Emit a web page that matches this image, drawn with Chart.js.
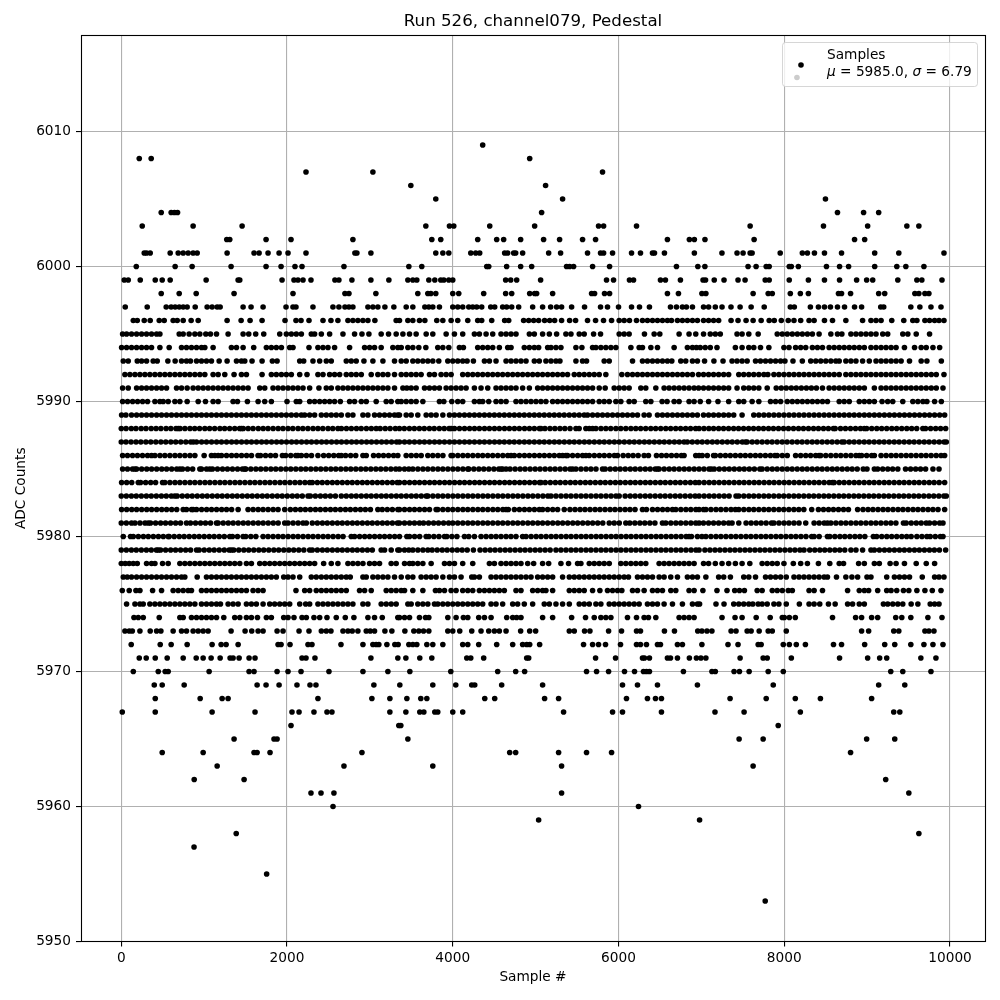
<!DOCTYPE html>
<html><head><meta charset="utf-8">
<style>html,body{margin:0;padding:0;background:#fff}canvas{display:block}</style>
<script src="https://cdn.jsdelivr.net/npm/chart.js@4/dist/chart.umd.min.js"></script>
</head><body><canvas id="c" width="1000" height="1000"></canvas>
<script>
const chartTitle="Run 526, channel079, Pedestal";
const xLabel="Sample #", yLabel="ADC Counts", seriesName="Samples";
const xTicks=[0,2000,4000,6000,8000,10000];
const yTicks=[5950,5960,5970,5980,5990,6000,6010];
// sample numbers seen at each ADC level
const s6014=[8153];
const s6009=[4361];
const s6008=[217,361,4928];
const s6007=[2229,3036,5807];
const s6006=[3494,5120];
const s6005=[3795,5325,8497];
const s6004=[482,602,642,679,5072,8642,8957,9139];
const s6003=[253,867,1458,3675,3960,4012,4446,4988,5759,5820,6217,7588,8473,9006,9479,9624];
const s6002=[1273,1309,1747,2048,2795,3747,3855,4301,4530,4614,4819,5096,5289,5566,5723,6590,6855,6915,7043,7636,8848,8970];
const s6001=[277,305,349,590,687,747,807,867,916,1277,1602,1663,1771,1904,2012,2229,2819,2843,3012,3795,3880,3952,4217,4277,4325,4626,4662,4735,4759,4843,5157,5301,5626,5783,5820,5928,6157,6265,6410,6434,6554,6915,7248,7430,7503,7588,7612,7951,8218,8279,8364,8485,8691,9091,9382,9927];
const s6000=[181,650,855,1325,1747,1928,2096,2181,2687,3470,3626,4410,4434,4650,4819,4952,5373,5410,5458,5687,5892,6699,6957,7042,7563,7660,7782,7818,8060,8085,8170,8509,8667,8776,9091,9358,9467,9685];
const s5999=[36,84,229,410,494,590,1024,1410,1430,1940,2084,2132,2193,2289,2578,2626,2783,3012,3229,3458,3518,3566,3711,3783,3855,3892,3952,4000,4638,4699,4771,5060,5855,5940,6132,6181,6506,6566,6747,7020,7050,7155,7273,7442,7527,7770,7818,8060,8291,8485,8667,8873,8994,9067,9370,9600,9660,9903];
const s5998=[482,699,904,1361,2072,2699,2747,3072,3578,3699,3735,3795,4000,4072,4373,4638,4711,4928,4988,5012,5205,5675,5711,5831,5892,6590,6723,7006,7054,7624,7806,7855,8073,8194,8291,8654,8691,8800,9139,9212,9576,9624,9697,9745];
const s5997=[48,313,542,602,650,699,747,795,892,1036,1096,1157,1193,1470,1566,1711,1988,2072,2108,2313,2554,2626,2699,2747,2795,2976,3036,3096,3181,3289,3438,3518,3663,3711,3759,3839,4000,4060,4120,4193,4241,4289,4349,4458,4506,4602,4650,4711,4795,4964,5084,5181,5253,5313,5434,5590,5783,5867,6000,6157,6253,6373,6627,6699,6771,6819,6892,7026,7087,7168,7249,7357,7467,7600,7758,8073,8121,8315,8412,8485,8557,8642,8727,8848,8933,9164,9200,9527,9636,9770,9891];
const s5996=[145,193,277,349,458,518,626,675,747,843,928,1277,1446,1554,1699,1976,2108,2169,2265,2434,2530,2614,2735,2795,2855,2916,2976,3060,3317,3357,3458,3518,3598,3663,3807,3880,3980,4060,4181,4301,4349,4470,4626,4675,4855,4916,4976,5036,5108,5169,5229,5313,5410,5482,5626,5723,5819,5916,6008,6068,6132,6217,6289,6349,6410,6470,6530,6590,6639,6711,6771,6831,6892,6952,7026,7087,7147,7208,7358,7442,7539,7624,7721,7818,7879,7964,8048,8117,8198,8299,8360,8485,8582,8743,8945,9046,9107,9168,9297,9442,9551,9600,9697,9753,9814,9867,9927];
const s5995=[16,64,124,185,245,305,365,426,466,699,747,819,888,948,1020,1076,1149,1289,1470,1538,1622,1719,1912,1992,2052,2112,2173,2293,2333,2414,2514,2675,2815,2904,2988,3136,3225,3317,3398,3478,3558,3679,3759,3920,4020,4120,4261,4321,4402,4482,4582,4643,4703,4763,4924,4984,5084,5165,5253,5365,5426,5526,5586,5699,5783,6008,6068,6128,6313,6430,6498,6731,6851,6932,7026,7107,7168,7228,7430,7491,7572,7685,7915,7976,8036,8097,8158,8218,8279,8339,8420,8562,8642,8695,8804,8865,8925,8986,9046,9107,9188,9248,9430,9491,9592,9753];
const s5994=[4,64,124,185,245,305,365,466,578,727,787,847,908,968,1008,1108,1329,1390,1470,1598,1751,1811,1871,1932,2032,2072,2265,2373,2434,2494,2574,2755,2936,2996,3056,3136,3277,3337,3378,3458,3518,3590,3675,3819,3880,3952,4080,4128,4301,4361,4422,4482,4562,4663,4703,4863,4924,4984,5036,5145,5185,5245,5305,5486,5558,5687,5727,5787,5847,5908,5968,6149,6249,6289,6390,6470,6671,6831,6892,6940,6986,7046,7107,7188,7410,7491,7572,7632,7713,7814,7996,8057,8137,8198,8259,8339,8400,8461,8541,8602,8663,8723,8784,8844,8905,8966,9046,9107,9168,9228,9289,9349,9450,9572,9652,9713,9794,9875];
const s5993=[24,84,193,245,305,385,434,562,650,727,787,835,908,968,1028,1088,1181,1277,1390,1450,1490,1578,1699,1823,1880,2153,2201,2313,2394,2474,2534,2715,2775,2835,2928,3036,3157,3297,3378,3438,3518,3578,3639,3699,3759,3831,3940,4000,4060,4120,4173,4249,4382,4442,4522,4643,4703,4763,4823,4884,4984,5044,5124,5185,5245,5293,5486,5566,5614,5827,5888,6169,6289,6349,6410,6470,6530,6590,6643,6751,6811,6892,6952,7038,7151,7261,7370,7430,7491,7552,7653,7713,7774,7834,7895,7956,8008,8105,8218,8319,8380,8440,8501,8562,8622,8663,8743,8804,8865,8945,9026,9107,9168,9228,9289,9349,9410,9511,9652,9721,9895];
const s5992=[44,104,165,225,285,345,406,466,526,586,647,707,767,827,888,948,1008,1108,1169,1249,1361,1450,1510,1699,1811,1871,1932,1992,2052,2153,2241,2373,2434,2514,2574,2635,2715,2775,2835,2896,3016,3096,3157,3217,3297,3378,3438,3498,3558,3618,3719,3779,3859,3920,3980,4120,4181,4241,4301,4361,4422,4482,4542,4602,4663,4723,4783,4843,4904,4964,5024,5084,5145,5205,5265,5325,5385,5466,5526,5586,5647,5707,5767,5847,6040,6108,6169,6229,6289,6349,6410,6470,6530,6590,6651,6711,6771,6831,6892,6966,7026,7087,7147,7208,7269,7329,7451,7511,7572,7632,7693,7754,7802,7875,7935,7996,8057,8117,8178,8238,8299,8360,8420,8481,8541,8602,8663,8743,8804,8865,8925,8986,9046,9107,9168,9228,9289,9349,9410,9471,9531,9592,9652,9713,9774,9834,9927];
const s5991=[16,84,185,245,305,365,426,486,546,667,727,795,867,928,988,1048,1108,1169,1229,1289,1349,1410,1470,1530,1671,1731,1831,1892,1952,2012,2072,2132,2193,2273,2385,2474,2534,2614,2675,2735,2795,2855,2916,2976,3036,3096,3157,3217,3297,3398,3446,3498,3558,3659,3719,3779,3839,3920,3980,4040,4100,4161,4261,4341,4422,4522,4582,4643,4703,4763,4843,4924,5024,5084,5145,5205,5265,5325,5385,5446,5506,5566,5626,5687,5767,5839,5948,6008,6068,6128,6269,6329,6450,6550,6610,6671,6731,6791,6851,6912,6966,7026,7087,7147,7208,7269,7329,7430,7511,7572,7632,7693,7794,7903,7964,8024,8085,8145,8206,8267,8327,8388,8461,8541,8602,8663,8723,8784,8844,8905,8966,9087,9168,9228,9289,9349,9410,9471,9531,9592,9652,9713,9774,9834,9915];
const s5990=[16,76,137,197,257,317,406,466,506,566,647,707,795,928,1016,1108,1169,1349,1402,1522,1651,1731,1811,2000,2112,2153,2273,2333,2394,2454,2514,2574,2643,2755,2815,2896,2956,3076,3197,3257,3337,3378,3438,3498,3558,3639,3839,3892,3988,4060,4120,4261,4321,4361,4434,4522,4582,4643,4763,4823,4884,4944,5004,5064,5124,5205,5265,5325,5385,5446,5506,5566,5626,5687,5767,5827,5888,5968,6028,6128,6189,6329,6390,6526,6586,6671,6731,6851,6912,6986,7087,7200,7329,7451,7511,7612,7693,7834,7895,7956,8036,8097,8158,8218,8279,8339,8400,8461,8521,8663,8723,8784,8905,8966,9026,9087,9180,9248,9309,9430,9551,9612,9673,9721,9814,9895];
const s5989=[4,56,124,185,245,305,365,426,486,546,606,667,727,787,847,908,968,1028,1088,1149,1209,1269,1329,1390,1450,1510,1570,1630,1691,1751,1811,1871,1932,1992,2052,2112,2173,2213,2273,2333,2414,2474,2534,2594,2655,2735,2795,2916,2976,3056,3116,3177,3237,3297,3337,3357,3438,3498,3578,3679,3739,3799,3880,3960,4020,4080,4141,4201,4261,4321,4382,4442,4502,4562,4622,4683,4743,4803,4863,4924,4984,5044,5104,5165,5225,5285,5345,5406,5466,5526,5586,5626,5687,5747,5807,5867,5928,5988,6048,6108,6169,6229,6309,6369,6470,6530,6590,6651,6711,6771,6831,6892,6952,7026,7087,7147,7208,7269,7329,7390,7491,7632,7693,7754,7814,7875,7935,7996,8057,8117,8178,8238,8299,8360,8420,8481,8541,8602,8663,8723,8784,8844,8905,8966,9026,9087,9147,9208,9269,9329,9390,9450,9511,9572,9632,9693,9753,9814,9875,9935];
const s5988=[0,58,121,177,240,298,361,420,478,541,598,660,687,710,768,829,886,945,1008,1066,1127,1190,1247,1308,1369,1428,1450,1472,1531,1590,1653,1712,1771,1832,1893,1951,2012,2070,2133,2191,2252,2314,2373,2432,2495,2552,2614,2656,2717,2776,2838,2895,2958,3017,3076,3124,3185,3244,3307,3357,3415,3477,3536,3597,3656,3718,3776,3838,3897,3956,3980,4020,4081,4142,4203,4262,4321,4383,4442,4503,4562,4624,4683,4744,4803,4866,4925,4984,5045,5064,5112,5173,5232,5293,5352,5415,5486,5525,5606,5648,5687,5727,5788,5847,5906,5968,6027,6088,6149,6208,6267,6328,6389,6448,6509,6570,6629,6690,6749,6810,6869,6930,6972,7031,7090,7147,7208,7267,7328,7389,7448,7509,7570,7629,7690,7749,7810,7869,7930,7991,8050,8111,8172,8231,8292,8353,8412,8473,8532,8593,8614,8679,8738,8799,8860,8919,8966,8994,9055,9116,9175,9236,9297,9356,9417,9478,9537,9598,9672,9705,9766,9827,9886,9947];
const s5987=[0,57,118,178,236,297,356,417,478,537,598,657,718,779,838,870,908,969,1028,1089,1150,1209,1270,1331,1390,1451,1512,1571,1632,1693,1752,1813,1874,1933,1994,2055,2114,2175,2236,2295,2356,2417,2476,2537,2598,2657,2718,2779,2838,2899,2960,3019,3080,3141,3200,3261,3322,3357,3418,3477,3538,3599,3658,3719,3780,3839,3900,3961,4020,4081,4142,4201,4262,4323,4382,4443,4504,4563,4622,4683,4742,4803,4864,4923,4984,5045,5104,5165,5226,5285,5346,5407,5466,5527,5588,5647,5708,5769,5828,5889,5950,6009,6070,6131,6190,6251,6312,6371,6432,6493,6552,6613,6674,6733,6791,6830,6890,6951,7010,7071,7132,7191,7252,7313,7372,7433,7494,7531,7552,7613,7672,7733,7794,7853,7914,7975,8034,8095,8156,8215,8276,8337,8396,8457,8518,8577,8638,8695,8723,8784,8843,8904,8965,9024,9085,9146,9205,9266,9327,9386,9447,9508,9567,9628,9689,9748,9809,9870,9929,9955];
const s5986=[16,75,136,195,256,317,365,406,467,526,587,648,707,768,829,888,1000,1088,1129,1169,1209,1270,1331,1390,1451,1512,1571,1650,1680,1741,1802,1861,1944,1984,2045,2106,2132,2173,2234,2295,2373,2442,2503,2564,2623,2655,2707,2768,2829,2916,2956,3044,3105,3164,3225,3286,3337,3438,3499,3560,3619,3699,3759,3820,3881,3980,4000,4061,4122,4181,4242,4303,4361,4422,4482,4543,4604,4663,4703,4743,4804,4865,4924,4985,5046,5105,5166,5225,5285,5325,5365,5385,5446,5507,5566,5606,5647,5708,5769,5828,5889,5950,5988,6056,6117,6176,6237,6309,6361,6458,6519,6578,6639,6700,6759,6791,6932,6972,7010,7071,7147,7168,7229,7290,7349,7410,7471,7530,7591,7652,7711,7772,7833,7887,7915,7976,8036,8137,8198,8259,8318,8379,8420,8440,8501,8562,8623,8682,8743,8804,8865,8905,8933,8994,9055,9087,9168,9229,9290,9349,9410,9471,9530,9591,9652,9711,9772,9833,9892,9935];
const s5985=[16,75,136,165,185,246,307,366,427,488,547,608,669,707,739,800,861,948,968,1029,1068,1100,1161,1222,1281,1342,1403,1462,1490,1502,1563,1624,1683,1744,1805,1864,1925,1986,2045,2106,2167,2226,2287,2348,2407,2468,2529,2588,2649,2710,2769,2830,2891,2950,3011,3072,3131,3192,3253,3312,3357,3418,3470,3518,3579,3640,3699,3760,3821,3880,3941,4002,4061,4122,4181,4193,4254,4315,4374,4435,4496,4555,4582,4602,4643,4691,4752,4813,4872,4933,4994,5053,5114,5175,5234,5295,5356,5415,5446,5486,5547,5608,5667,5728,5807,5839,5900,5961,6020,6081,6142,6201,6262,6323,6382,6443,6470,6490,6551,6612,6671,6732,6793,6852,6913,6972,7031,7092,7119,7155,7216,7277,7336,7397,7458,7517,7578,7639,7705,7733,7794,7855,7914,7975,8036,8095,8156,8217,8276,8337,8398,8457,8518,8579,8638,8699,8760,8819,8880,8953,8998,9087,9127,9188,9249,9308,9370,9463,9524,9585,9644,9705,9794,9867];
const s5984=[4,65,126,205,233,294,355,414,498,526,587,648,707,768,829,888,949,1010,1069,1130,1191,1250,1311,1372,1431,1492,1553,1612,1673,1734,1793,1854,1915,1974,2035,2096,2155,2216,2273,2305,2366,2425,2486,2547,2606,2667,2728,2787,2848,2909,2968,3029,3090,3149,3210,3271,3330,3357,3418,3479,3540,3599,3660,3721,3780,3841,3902,3961,4022,4083,4142,4203,4264,4323,4384,4445,4504,4565,4626,4685,4746,4807,4866,4927,4988,5047,5064,5116,5177,5238,5297,5358,5419,5478,5539,5600,5659,5720,5781,5840,5901,5962,6021,6082,6143,6202,6263,6324,6383,6444,6505,6564,6625,6686,6745,6806,6867,6926,6972,7033,7094,7153,7214,7275,7334,7395,7456,7515,7576,7637,7696,7757,7818,7877,7938,7999,8058,8119,8180,8239,8300,8361,8420,8481,8542,8582,8602,8663,8722,8783,8844,8903,8964,9025,9084,9145,9206,9265,9326,9387,9446,9507,9568,9627,9688,9749,9808,9869,9935];
const s5983=[0,61,122,181,242,303,362,423,484,543,604,646,675,736,797,856,917,978,1037,1098,1159,1218,1279,1340,1399,1460,1521,1580,1641,1702,1761,1822,1883,1942,2003,2064,2123,2184,2253,2281,2342,2403,2462,2523,2584,2655,2715,2776,2835,2896,2957,3016,3077,3138,3197,3258,3319,3378,3439,3500,3559,3620,3679,3699,3760,3821,3880,3941,4002,4061,4122,4183,4242,4303,4364,4423,4484,4545,4604,4665,4726,4785,4846,4907,4966,5027,5088,5147,5185,5245,5306,5367,5426,5487,5548,5607,5668,5729,5788,5849,5910,5969,6008,6080,6141,6200,6261,6322,6381,6442,6503,6562,6623,6684,6743,6804,6865,6924,6972,7033,7094,7153,7214,7275,7334,7418,7451,7512,7573,7632,7693,7754,7813,7874,7935,7994,8055,8116,8175,8236,8297,8356,8417,8478,8537,8598,8659,8718,8779,8840,8899,8960,9021,9080,9141,9202,9261,9322,9383,9442,9503,9564,9623,9684,9745,9804,9865,9926,9955];
const s5982=[4,65,126,185,246,307,366,427,488,547,608,669,747,787,848,867,908,969,1030,1089,1150,1211,1270,1331,1410,1530,1591,1652,1711,1772,1833,1892,1972,2040,2101,2162,2221,2282,2343,2402,2463,2524,2583,2644,2705,2764,2825,2886,2945,3006,3096,3149,3210,3271,3337,3357,3418,3479,3538,3599,3660,3719,3799,3819,3880,3941,4000,4061,4122,4181,4242,4303,4362,4423,4484,4543,4604,4643,4670,4743,4804,4865,4924,4985,5044,5084,5145,5206,5265,5345,5414,5475,5536,5595,5656,5717,5776,5837,5898,5957,6018,6079,6138,6199,6289,6337,6410,6471,6532,6591,6651,6691,6752,6813,6872,6933,6972,7026,7054,7115,7176,7235,7296,7357,7410,7451,7512,7573,7632,7693,7754,7813,7874,7935,7994,8055,8116,8175,8236,8331,8412,8473,8534,8593,8654,8715,8774,8885,8950,9011,9070,9131,9192,9251,9312,9373,9432,9493,9554,9613,9674,9735,9794,9855,9935];
const s5981=[0,61,124,165,226,287,325,353,414,475,534,595,656,715,787,835,896,957,1016,1077,1149,1169,1230,1291,1350,1411,1472,1531,1592,1653,1712,1773,1834,1893,1972,2012,2073,2134,2193,2233,2305,2366,2427,2486,2547,2608,2667,2728,2789,2848,2909,2970,3029,3090,3151,3210,3271,3332,3357,3418,3479,3538,3598,3647,3708,3769,3828,3889,3950,4000,4060,4121,4182,4241,4302,4363,4422,4483,4544,4603,4664,4725,4784,4845,4906,4965,5026,5084,5145,5206,5267,5326,5387,5448,5507,5568,5629,5688,5749,5810,5888,5948,6009,6088,6136,6197,6258,6317,6378,6439,6530,6570,6631,6692,6751,6812,6873,6932,6972,7025,7087,7147,7208,7269,7329,7370,7451,7539,7600,7661,7720,7781,7846,7875,7936,7997,8056,8117,8178,8259,8360,8421,8482,8521,8562,8623,8684,8743,8804,8865,8924,8985,9046,9105,9166,9227,9286,9347,9438,9471,9532,9593,9652,9713,9753,9814,9875,9915];
const s5980=[24,112,145,206,267,326,387,448,507,566,578,639,700,759,820,881,940,1001,1062,1121,1182,1243,1309,1341,1402,1470,1502,1563,1624,1711,1771,1832,1893,1952,2013,2074,2133,2194,2255,2314,2375,2436,2495,2556,2617,2676,2775,2815,2876,2937,2996,3057,3118,3177,3238,3299,3357,3446,3478,3539,3600,3679,3711,3772,3833,3900,3928,3989,4050,4141,4193,4261,4341,4402,4463,4522,4582,4643,4702,4763,4843,4884,4945,5006,5065,5126,5187,5246,5307,5368,5427,5488,5549,5608,5669,5730,5789,5850,5911,5970,6031,6092,6151,6212,6273,6332,6393,6454,6513,6574,6635,6694,6755,6816,6851,6880,6952,7006,7054,7115,7176,7235,7296,7357,7416,7477,7538,7597,7658,7719,7778,7839,7900,7959,8020,8081,8140,8201,8262,8331,8360,8421,8521,8549,8610,8671,8730,8791,8852,8911,8972,9075,9115,9176,9237,9296,9357,9418,9477,9531,9600,9661,9721,9761,9822,9883,9915];
const s5979=[0,61,122,181,242,303,362,423,446,474,535,596,655,716,777,836,908,940,1001,1062,1121,1182,1243,1302,1329,1357,1418,1479,1538,1599,1660,1719,1780,1841,1900,1961,2022,2081,2142,2203,2273,2305,2366,2427,2486,2547,2608,2667,2728,2789,2848,2909,2970,3029,3136,3177,3257,3337,3357,3418,3470,3518,3579,3640,3699,3751,3812,3873,3932,3993,4054,4113,4174,4249,4329,4390,4451,4510,4571,4632,4691,4752,4813,4872,4933,4994,5053,5114,5175,5245,5305,5366,5427,5486,5547,5608,5667,5728,5789,5848,5909,5970,6029,6090,6151,6210,6271,6332,6391,6452,6513,6572,6633,6694,6753,6814,6875,6934,6972,7042,7103,7164,7223,7284,7345,7404,7465,7526,7585,7646,7707,7766,7827,7888,7947,8008,8069,8128,8189,8238,8307,8368,8429,8488,8549,8610,8669,8730,8804,8865,8945,9046,9087,9148,9209,9268,9329,9390,9449,9510,9571,9630,9691,9752,9811,9872,9947];
const s5978=[0,48,96,145,193,305,365,406,498,566,707,767,827,888,948,1008,1068,1128,1189,1249,1309,1369,1430,1510,1570,1671,1731,1791,1851,1912,1972,2032,2092,2153,2213,2273,2333,2442,2534,2614,2735,2795,2855,2916,2996,3056,3116,3257,3317,3418,3478,3518,3578,3639,3739,3900,3960,4020,4120,4241,4442,4502,4582,4643,4703,4763,4823,4904,4976,5084,5157,5305,5397,5506,5546,5647,5707,5767,5827,5888,6028,6088,6149,6209,6269,6329,6490,6550,6610,6671,6731,6791,6851,6912,7026,7087,7168,7249,7329,7410,7491,7584,7733,7794,7855,7915,7996,8109,8198,8279,8412,8549,8663,8715,8897,8966,9087,9147,9277,9349,9450,9592,9713,9814];
const s5977=[24,72,124,185,245,305,365,426,486,546,606,667,727,767,916,1028,1088,1149,1209,1269,1329,1390,1450,1510,1570,1630,1691,1751,1811,1871,1960,2012,2072,2153,2293,2353,2414,2474,2534,2594,2655,2715,2763,2916,2956,3036,3096,3157,3217,3297,3378,3458,3518,3618,3679,3739,3799,3880,3960,4020,4100,4229,4261,4321,4462,4522,4582,4643,4703,4763,4823,4884,4944,5024,5084,5145,5205,5325,5406,5466,5526,5586,5647,5707,5767,5827,5888,5948,6008,6068,6120,6229,6289,6349,6410,6490,6550,6630,6711,6831,6892,6952,7054,7208,7269,7350,7511,7572,7653,7774,7834,7895,7956,8024,8117,8178,8238,8299,8360,8420,8481,8521,8630,8743,8816,8885,8998,9046,9236,9329,9390,9450,9511,9665,9814,9867,9927];
const s5976=[12,96,177,225,378,486,626,687,747,807,847,968,1028,1088,1149,1209,1269,1329,1390,1450,1510,1590,1651,1711,2108,2213,2273,2353,2414,2474,2534,2594,2655,2715,2875,2936,3016,3197,3257,3317,3378,3418,3518,3639,3791,3839,3900,3980,4040,4120,4181,4241,4321,4382,4442,4502,4562,4622,4763,4823,4964,5024,5084,5124,5205,5406,5466,5526,5586,5687,5775,5867,5928,5988,6040,6169,6229,6309,6410,6470,6530,6631,6691,6851,6912,7018,7188,7309,7402,7459,7519,7673,7733,7855,7915,7976,8048,8097,8299,8360,8461,8764,8905,8966,9018,9127,9236,9289,9357,9438,9503,9600,9697,9786,9891];
const s5975=[64,165,225,265,345,406,466,526,586,647,707,767,827,888,968,1028,1088,1149,1197,1289,1349,1410,1510,1570,1630,1711,1791,1851,1912,1972,2032,2153,2225,2273,2373,2434,2494,2554,2614,2675,2735,2795,2916,2976,3136,3197,3257,3317,3458,3498,3578,3639,3699,3779,3819,3880,3940,4000,4060,4120,4181,4241,4301,4361,4462,4522,4602,4723,4783,4863,4964,5104,5165,5245,5325,5406,5526,5586,5647,5727,5787,5888,5948,6008,6068,6128,6189,6249,6349,6410,6470,6550,6651,6771,6892,6952,6978,7176,7273,7390,7451,7511,7572,7620,7685,7733,7794,7875,7935,8024,8182,8299,8360,8428,8533,8614,8764,8824,8905,8966,9196,9248,9309,9370,9430,9531,9612,9761,9814,9867];
const s5974=[153,205,265,458,707,747,847,908,968,1028,1088,1149,1237,1369,1430,1510,1570,1643,1751,1811,1960,2012,2084,2181,2233,2325,2394,2482,2594,2703,2807,2976,3056,3149,3337,3357,3418,3478,3598,3671,3711,3940,4040,4128,4181,4313,4382,4462,4651,4723,4771,4823,5084,5205,5434,5602,5707,5787,5847,5908,6108,6217,6309,6361,6450,6731,6791,6851,6912,7249,7406,7491,7661,7830,7976,8000,8061,8133,8582,8861,8933,9054,9127,9345,9418,9527,9733,9903];
const s5973=[44,96,133,225,349,426,478,626,727,787,867,928,988,1048,1325,1494,1574,1651,1711,1880,1952,2145,2265,2414,2474,2530,2675,2735,2787,2855,2956,3004,3056,3181,3265,3422,3530,3590,3647,3711,3940,4000,4084,4229,4341,4434,4502,4562,4643,4819,4928,5000,5406,5466,5590,5655,5880,6036,6217,6265,6554,6675,6956,7006,7067,7127,7358,7418,7552,7600,7697,7806,7855,8024,8933,9018,9321,9382,9697,9745,9806];
const s5972=[120,470,602,795,1096,1205,1265,1410,1892,1928,2036,2253,2301,2651,2916,3036,3076,3108,3205,3301,3341,3470,3518,3566,3687,3759,3880,4120,4181,4313,4530,4723,4843,4892,4928,5048,5578,5687,5759,5843,6024,6217,6265,6337,6470,6506,6711,6771,7006,7321,7442,7685,7721,7988,8061,8145,8255,8594,8691,8970,9212,9333,9527,9685,9794,9915];
const s5971=[217,301,410,554,747,904,988,1084,1193,1313,1349,1422,1542,1614,2181,2229,2337,3012,3337,3434,3602,3747,4169,4217,4373,4892,4916,5723,5964,6289,6313,6373,6590,6627,6711,6855,6940,6994,7054,7467,7745,7794,8085,8667,9006,9151,9236,9648,9830];
const s5970=[145,446,530,566,1060,1542,1602,1880,2012,2169,2506,2916,3217,3482,3976,4542,4759,4867,5614,5735,5880,6072,6193,6301,6337,6373,6783,7127,7168,7394,7459,7576,7806,7988,9285,9430,9770];
const s5969=[398,494,759,1639,1747,1904,2120,2277,2349,3048,3361,3759,4036,4229,4265,4590,5084,6048,6229,6470,6952,7867,9139,9454];
const s5968=[410,952,1217,1289,2373,3024,3241,3446,3614,3687,4386,4506,5108,5277,6096,6349,6446,6518,7346,7782,8133,8436,9054];
const s5967=[12,410,1096,1614,2060,2145,2325,2482,2542,3241,3434,3602,3651,3783,3819,4000,4120,5337,5928,6048,6518,7164,7515,8194,9321,9394];
const s5966=[2048,3349,3373,7927];
const s5965=[1361,1843,1880,3458,7455,7745,8994,9333];
const s5964=[494,988,1602,1639,1795,2904,4687,4759,5277,5614,5916,8800];
const s5963=[1157,2687,3759,5313,7624];
const s5962=[880,1482,9224];
const s5961=[2289,2410,2566,5313,9503];
const s5960=[2555,6241];
const s5959=[5036,6978];
const s5958=[1387,9624];
const s5957=[878];
const s5955=[1754];
const s5953=[7770];
const levelValues=[6014,6009,6008,6007,6006,6005,6004,6003,6002,6001,6000,5999,5998,5997,5996,5995,5994,5993,5992,5991,5990,5989,5988,5987,5986,5985,5984,5983,5982,5981,5980,5979,5978,5977,5976,5975,5974,5973,5972,5971,5970,5969,5968,5967,5966,5965,5964,5963,5962,5961,5960,5959,5958,5957,5955,5953];
const levelSamples=[s6014,s6009,s6008,s6007,s6006,s6005,s6004,s6003,s6002,s6001,s6000,s5999,s5998,s5997,s5996,s5995,s5994,s5993,s5992,s5991,s5990,s5989,s5988,s5987,s5986,s5985,s5984,s5983,s5982,s5981,s5980,s5979,s5978,s5977,s5976,s5975,s5974,s5973,s5972,s5971,s5970,s5969,s5968,s5967,s5966,s5965,s5964,s5963,s5962,s5961,s5960,s5959,s5958,s5957,s5955,s5953];
const points=[];
levelValues.forEach((v,i)=>levelSamples[i].forEach(x=>points.push({x:x,y:v})));
const FONT='"DejaVu Sans"';
const frameAndLegend={id:'frameAndLegend',afterDraw(chart){
  const c=chart.ctx,a=chart.chartArea;
  c.save();
  c.strokeStyle='#000';c.lineWidth=1.1;
  c.strokeRect(Math.round(a.left)+.5,Math.round(a.top)+.5,Math.round(a.right-a.left),Math.round(a.bottom-a.top));
  const bx=782.5,by=42.5,bw=195,bh=44;
  c.beginPath();c.roundRect(bx,by,bw,bh,3);
  c.fillStyle='rgba(255,255,255,0.8)';c.fill();
  c.strokeStyle='rgba(204,204,204,0.8)';c.lineWidth=1;c.stroke();
  c.fillStyle='#000';
  c.beginPath();c.arc(801,65,2.8,0,Math.PI*2);c.fill();
  c.textBaseline='alphabetic';c.textAlign='left';
  c.font='13.7px '+FONT;
  c.fillText(seriesName,827,59);
  const parts=[['\u03bc',1],[' = 5985.0, ',0],['\u03c3',1],[' = 6.79',0]];
  let x=827;
  parts.forEach(p=>{c.font=(p[1]?'italic ':'')+'13.7px '+FONT;c.fillText(p[0],x,76);x+=c.measureText(p[0]).width;});
  c.restore();
}};
new Chart(document.getElementById('c'),{
  type:'scatter',
  data:{datasets:[{label:seriesName,data:points,backgroundColor:'#000',borderWidth:0,pointRadius:2.8,pointHoverRadius:2.8}]},
  options:{
    responsive:false,animation:false,devicePixelRatio:1,
    layout:{padding:{right:15,left:0,top:0,bottom:0}},
    plugins:{legend:{display:false},tooltip:{enabled:false},
      title:{display:true,fullSize:false,text:chartTitle,color:'#000',font:{family:FONT,size:16.67,weight:'normal',lineHeight:1.2},padding:{top:12,bottom:3}}},
    scales:{
      x:{type:'linear',min:-486,max:10422,
        afterBuildTicks(s){s.ticks=xTicks.map(v=>({value:v}));},
        afterFit(s){s.height=58.5;},
        grid:{color:'#b0b0b0',lineWidth:1.1,tickColor:'#000',tickLength:5,tickWidth:1.1},
        border:{display:false},
        ticks:{color:'#000',padding:4,maxRotation:0,font:{family:FONT,size:13.7},callback:v=>String(v)},
        title:{display:true,text:xLabel,color:'#000',font:{family:FONT,size:13.7},padding:{top:0,bottom:14}}},
      y:{type:'linear',min:5950,max:6017.15,
        afterBuildTicks(s){s.ticks=yTicks.map(v=>({value:v}));},
        afterFit(s){s.width=81;},
        grid:{color:'#b0b0b0',lineWidth:1.1,tickColor:'#000',tickLength:5,tickWidth:1.1},
        border:{display:false},
        ticks:{color:'#000',padding:5,font:{family:FONT,size:13.7},callback:v=>String(v)},
        title:{display:true,text:yLabel,color:'#000',font:{family:FONT,size:13.7},padding:{top:13,bottom:0}}}
    }
  },
  plugins:[frameAndLegend]
});
</script></body></html>
